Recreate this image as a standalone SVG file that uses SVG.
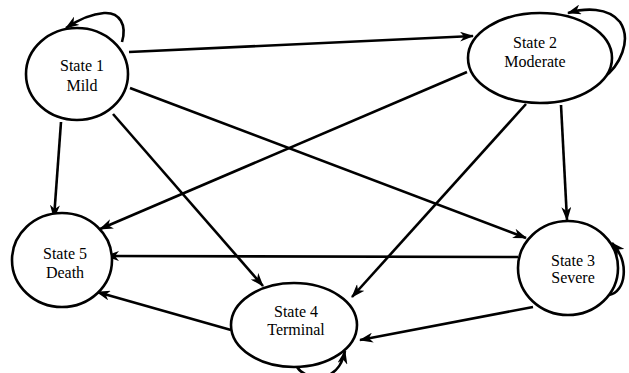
<svg xmlns="http://www.w3.org/2000/svg" width="629" height="373" viewBox="0 0 629 373">
<style>
.node{fill:#fff;stroke:#000;stroke-width:2.6}
.lbl{font-family:"Liberation Serif","Times New Roman",serif;font-size:16px;fill:#000;text-anchor:middle}
.edge{fill:none;stroke:#000;stroke-width:2.6;marker-end:url(#arr)}
</style>
<defs>
<marker id="arr" viewBox="0 0 14 10" refX="13" refY="5" markerWidth="14" markerHeight="10" markerUnits="userSpaceOnUse" orient="auto">
<path d="M0,0 L14,5 L0,10 L4,5 z" fill="#000"/>
</marker>
</defs>
<rect width="629" height="373" fill="#fff"/>
<g id="connectors">
<line class="edge" x1="129" y1="52" x2="473" y2="36"/>
<line class="edge" x1="130" y1="88" x2="526" y2="238"/>
<line class="edge" x1="61" y1="122" x2="54" y2="218"/>
<line class="edge" x1="113" y1="114" x2="263" y2="286"/>
<line class="edge" x1="467" y1="72" x2="100" y2="229"/>
<line class="edge" x1="526" y1="104" x2="352" y2="297"/>
<line class="edge" x1="561" y1="105" x2="567" y2="220"/>
<line class="edge" x1="518" y1="257" x2="106" y2="256"/>
<line class="edge" x1="533" y1="307" x2="360" y2="340"/>
<line class="edge" x1="231" y1="330" x2="97" y2="292"/>
<path class="edge" d="M122,42 C127,25 120,12 104,13 C90,14 78,20 66,28"/>
<path class="edge" d="M603,78 C620,66 632,40 620,22 C608,7 585,8 568,13"/>
<path class="edge" d="M609,295 C626,292 630,262 612,243"/>
<path class="edge" d="M297,367 C305,380 338,386 345,351"/>
</g>
<g id="state1">
<ellipse class="node" cx="77" cy="74" rx="51" ry="46"/>
<text class="lbl" x="82" y="71">State 1</text>
<text class="lbl" x="82" y="91">Mild</text>
</g>
<g id="state2">
<ellipse class="node" cx="540" cy="58" rx="72" ry="45"/>
<text class="lbl" x="535" y="48">State 2</text>
<text class="lbl" x="535" y="67">Moderate</text>
</g>
<g id="state3">
<ellipse class="node" cx="568" cy="268" rx="50" ry="47"/>
<text class="lbl" x="573" y="266">State 3</text>
<text class="lbl" x="573" y="283">Severe</text>
</g>
<g id="state4">
<ellipse class="node" cx="294" cy="325" rx="63" ry="42"/>
<text class="lbl" x="296" y="317">State 4</text>
<text class="lbl" x="296" y="335">Terminal</text>
</g>
<g id="state5">
<ellipse class="node" cx="62" cy="260" rx="50" ry="47"/>
<text class="lbl" x="65" y="259">State 5</text>
<text class="lbl" x="65" y="278">Death</text>
</g>
</svg>
